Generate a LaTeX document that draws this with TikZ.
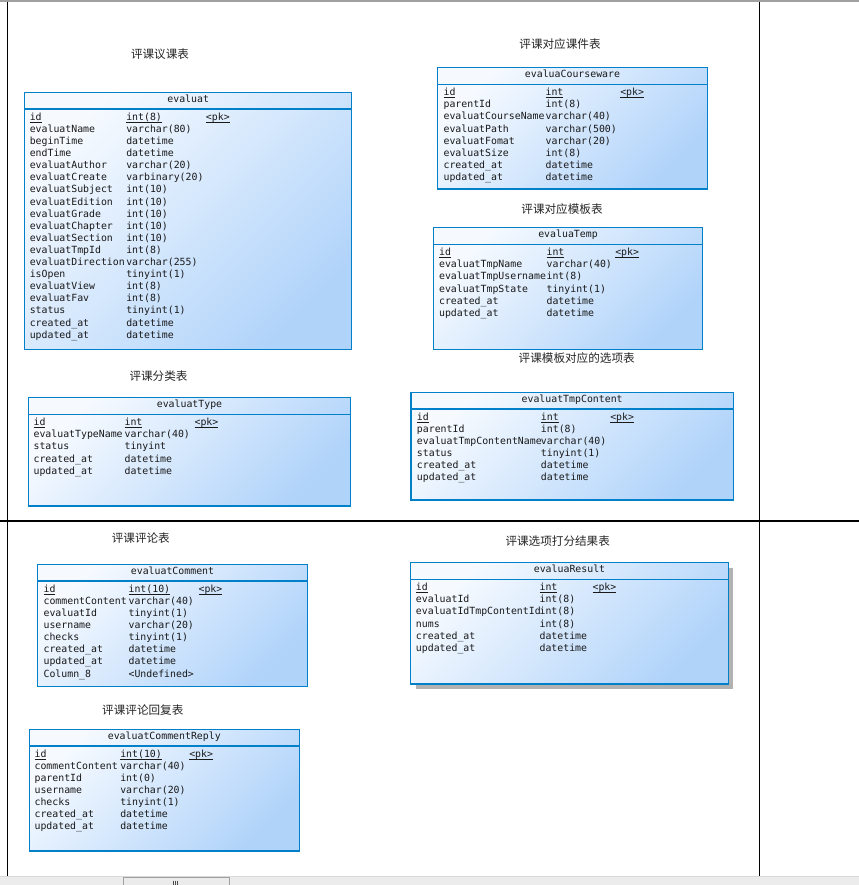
\documentclass[tikz,border=0pt]{standalone}
\usepackage{fontspec}
\setmonofont{DejaVu Sans Mono}
\newfontfamily\cjk{Noto Sans CJK SC}
\usetikzlibrary{fit}
\definecolor{erdborder}{RGB}{0,128,200}
\definecolor{erdlight}{RGB}{246,250,255}
\definecolor{erddark}{RGB}{176,211,250}
\definecolor{barbg}{RGB}{236,236,236}
\definecolor{barline}{RGB}{160,160,160}
\newcommand\ulx[1]{\setbox0\hbox{#1}\dp0=0pt\underline{\box0}}
\tikzset{
  tbl/.style={draw=erdborder, line width=0.8pt, top color=erdlight, bottom color=erddark, shading angle=45, inner sep=0pt, rectangle},
  sepline/.style={draw=erdborder, line width=0.8pt},
  hdr/.style={font=\ttfamily\fontsize{7.4}{9}\selectfont, anchor=base, inner sep=0pt, text=black!90},
  cell/.style={font=\ttfamily\fontsize{7.4}{9}\selectfont, anchor=base west, inner sep=0pt, text=black!90},
  ttl/.style={font=\cjk\fontsize{8.7}{10}\selectfont, inner sep=0pt, text=black!85},
  frameline/.style={draw=black, line width=0.9pt},
  shadowbox/.style={fill=black!30, draw=none},
}
% #1 name, #2 left, #3 top, #4 right, #5 bottom, #6 header text
\newcommand\erdtable[6]{%
  \node[tbl, fit={(#2,#3) (#4,#5)}] (#1) {};
  \draw[sepline] (#2,#3+16.7) -- (#4,#3+16.7);
  \node[hdr] (#1-h) at ({(#2+#4)/2},#3+10.2) {#6};
}
% #1 name, #2 top, #3 namex, #4 typex, #5 pkx, #6 id type, #7 rows
\newcommand\erdrows[7]{%
  \node[cell] (#1-k) at (#3,#2+28) {\ulx{id}};
  \node[cell] (#1-kt) at (#4,#2+28) {\ulx{#6}};
  \node[cell] (#1-kp) at (#5,#2+28) {\ulx{<pk>}};
  \foreach \n/\t [count=\i] in {#7} {
    \node[cell] (#1-n\i) at (#3,#2+28+12.1*\i) {\n};
    \node[cell] (#1-t\i) at (#4,#2+28+12.1*\i) {\t};
  }
}
\begin{document}
\begin{tikzpicture}[x=0.75pt,y=-0.75pt]
\useasboundingbox (0,0) rectangle (859,885);
\fill[white] (0,0) rectangle (859,885);
% page frame
\draw[barline, line width=1.5pt] (0,0.8) -- (859,0.8);
\draw[frameline] (7.5,1.5) -- (7.5,876);
\draw[frameline] (759.5,1.5) -- (759.5,876);
\draw[frameline] (0,521) -- (859,521);
% scrollbar
\fill[barbg] (0,876) rectangle (859,885);
\draw[black!15, line width=0.5pt] (0,876.3) -- (859,876.3);
\node[fill=black!8, draw=barline, line width=0.6pt, inner sep=0pt, fit={(123.5,877.5) (229.5,886)}] (thumb) {};
\foreach \gx in {173.5,175.5,177.5} \draw[black!70, line width=0.6pt] (\gx,880.5) -- (\gx,885);

% titles
\node[ttl] (t1) at (160,54) {评课议课表};
\node[ttl] (t2) at (560,44.3) {评课对应课件表};
\node[ttl] (t3) at (562,209) {评课对应模板表};
\node[ttl] (t4) at (576.7,357.7) {评课模板对应的选项表};
\node[ttl] (t5) at (158.5,375.7) {评课分类表};
\node[ttl] (t6) at (140.8,538.3) {评课评论表};
\node[ttl] (t7) at (557.7,541) {评课选项打分结果表};
\node[ttl] (t8) at (142.8,710) {评课评论回复表};

% evaluat
\erdtable{evaluat}{24.7}{92.3}{351.7}{349.3}{evaluat}
\erdrows{evaluat}{92.3}{29.5}{126}{205.7}{int(8)}{evaluatName/varchar(80), beginTime/datetime, endTime/datetime, evaluatAuthor/varchar(20), evaluatCreate/varbinary(20), evaluatSubject/int(10), evaluatEdition/int(10), evaluatGrade/int(10), evaluatChapter/int(10), evaluatSection/int(10), evaluatTmpId/int(8), evaluatDirection/varchar(255), isOpen/tinyint(1), evaluatView/int(8), evaluatFav/int(8), status/tinyint(1), created\_at/datetime, updated\_at/datetime}

% evaluaCourseware
\erdtable{course}{437.3}{67.7}{707.7}{189}{evaluaCourseware}
\erdrows{course}{67.7}{443.3}{545.3}{620}{int}{parentId/int(8), evaluatCourseName/varchar(40), evaluatPath/varchar(500), evaluatFomat/varchar(20), evaluatSize/int(8), created\_at/datetime, updated\_at/datetime}

% evaluaTemp
\erdtable{temp}{433.3}{227.7}{702.7}{349.3}{evaluaTemp}
\erdrows{temp}{227.7}{438.8}{546.3}{615}{int}{evaluatTmpName/varchar(40), evaluatTmpUsername/int(8), evaluatTmpState/tinyint(1), created\_at/datetime, updated\_at/datetime}

% evaluatTmpContent
\erdtable{content}{411}{392.3}{733.3}{500}{evaluatTmpContent}
\erdrows{content}{392.3}{416.7}{540.7}{610}{int}{parentId/int(8), evaluatTmpContentName/varchar(40), status/tinyint(1), created\_at/datetime, updated\_at/datetime}

% evaluatType
\erdtable{etype}{28.3}{397.7}{350.7}{506}{evaluatType}
\erdrows{etype}{397.7}{33.3}{124.3}{194.3}{int}{evaluatTypeName/varchar(40), status/tinyint, created\_at/datetime, updated\_at/datetime}

% evaluatComment
\erdtable{comment}{37.3}{564.3}{307.7}{686.7}{evaluatComment}
\erdrows{comment}{564.3}{43.3}{128.3}{198.3}{int(10)}{commentContent/varchar(40), evaluatId/tinyint(1), username/varchar(20), checks/tinyint(1), created\_at/datetime, updated\_at/datetime, Column\_8/<Undefined>}

% evaluaResult (with shadow)
\fill[shadowbox] (415.7,567.7) rectangle (733.3,688.5);
\erdtable{result}{410.7}{562.7}{728.3}{684}{evaluaResult}
\erdrows{result}{562.7}{415.7}{539.3}{592.3}{int}{evaluatId/int(8), evaluatIdTmpContentId/int(8), nums/int(8), created\_at/datetime, updated\_at/datetime}

% evaluatCommentReply
\erdtable{reply}{29.3}{729.3}{299.3}{851}{evaluatCommentReply}
\erdrows{reply}{729.3}{34.3}{120}{189}{int(10)}{commentContent/varchar(40), parentId/int(0), username/varchar(20), checks/tinyint(1), created\_at/datetime, updated\_at/datetime}
\end{tikzpicture}
\end{document}
